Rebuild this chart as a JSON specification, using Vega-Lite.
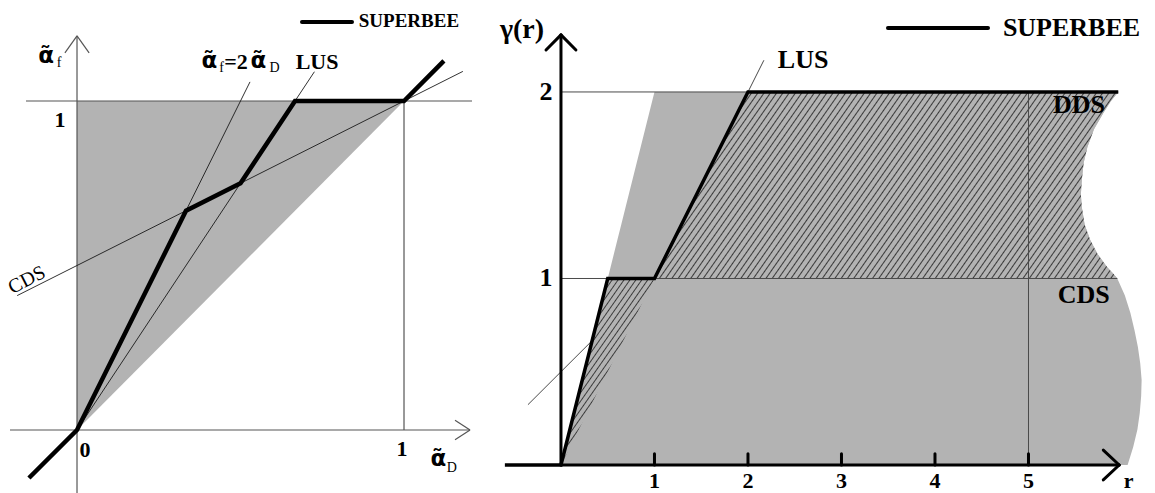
{
  "$schema": "https://vega.github.io/schema/vega-lite/v6.json",
  "padding": 0,
  "spacing": 0,
  "bounds": "flush",
  "background": "white",
  "config": {"view": {"stroke": null}},
  "hconcat": [
    {
      "width": 480,
      "height": 493,
      "encoding": {
        "x": {"field": "x", "type": "quantitative", "scale": {"domain": [-0.2355, 1.2324], "nice": false, "zero": false}, "axis": null},
        "y": {"field": "y", "type": "quantitative", "scale": {"domain": [-0.1915, 1.307], "nice": false, "zero": false}, "axis": null}
      },
      "layer": [
        {
          "data": {"values": [{"x": 0, "y": 0, "y2": 1}, {"x": 1, "y": 1, "y2": 1}]},
          "mark": {"type": "area", "color": "#b3b3b3", "orient": "vertical"},
          "encoding": {"y2": {"field": "y2"}}
        },
        {
          "data": {"values": [
            {"x": -0.205, "y": 0, "x2": 1.202, "y2": 0},
            {"x": 0, "y": -0.1915, "x2": 0, "y2": 1.198},
            {"x": 1.202, "y": 0, "x2": 1.156, "y2": 0.03},
            {"x": 1.202, "y": 0, "x2": 1.156, "y2": -0.03},
            {"x": 0, "y": 1.198, "x2": -0.037, "y2": 1.146},
            {"x": 0, "y": 1.198, "x2": 0.037, "y2": 1.146},
            {"x": -0.156, "y": 1, "x2": 1.208, "y2": 1},
            {"x": 1, "y": 0, "x2": 1, "y2": 1}
          ]},
          "mark": {"type": "rule", "color": "#555555", "strokeWidth": 1.2},
          "encoding": {"x2": {"field": "x2"}, "y2": {"field": "y2"}}
        },
        {
          "data": {"values": [
            {"x": 0, "y": 0, "x2": 0.529, "y2": 1.058},
            {"x": 0, "y": 0, "x2": 0.726, "y2": 1.089},
            {"x": -0.183, "y": 0.4085, "x2": 1.18, "y2": 1.09}
          ]},
          "mark": {"type": "rule", "color": "#1a1a1a", "strokeWidth": 0.9},
          "encoding": {"x2": {"field": "x2"}, "y2": {"field": "y2"}}
        },
        {
          "data": {"values": [
            {"x": -0.147, "y": -0.146},
            {"x": 0, "y": 0},
            {"x": 0.3333, "y": 0.6667},
            {"x": 0.5, "y": 0.75},
            {"x": 0.6667, "y": 1},
            {"x": 1, "y": 1},
            {"x": 1.122, "y": 1.122}
          ]},
          "mark": {"type": "line", "color": "#000000", "strokeWidth": 4.5, "strokeJoin": "miter"},
          "encoding": {}
        },
        {
          "data": {"values": [{"x": 0.688, "y": 1.240, "x2": 0.841, "y2": 1.240}]},
          "mark": {"type": "rule", "color": "#000000", "strokeWidth": 4, "strokeCap": "round"},
          "encoding": {"x2": {"field": "x2"}, "y2": {"field": "y2"}}
        },
        {
          "data": {"values": [
            {"x": -0.052, "y": 0.942, "t": "1"},
            {"x": 0.0245, "y": -0.061, "t": "0"},
            {"x": 0.994, "y": -0.058, "t": "1"},
            {"x": 0.734, "y": 1.119, "t": "LUS"},
            {"x": 0.486, "y": 1.119, "t": "=2"}
          ]},
          "mark": {"type": "text", "font": "Liberation Serif", "fontWeight": "bold", "fontSize": 22, "align": "center", "baseline": "middle", "color": "#000000"},
          "encoding": {"text": {"field": "t"}}
        },
        {
          "data": {"values": [{"x": 1.015, "y": 1.243, "t": "SUPERBEE"}]},
          "mark": {"type": "text", "font": "Liberation Serif", "fontWeight": "bold", "fontSize": 19, "align": "center", "baseline": "middle", "color": "#000000"},
          "encoding": {"text": {"field": "t"}}
        },
        {
          "data": {"values": [
            {"x": -0.094, "y": 1.137, "t": "α̃"},
            {"x": 1.105, "y": -0.088, "t": "α̃"},
            {"x": 0.405, "y": 1.122, "t": "α̃"},
            {"x": 0.555, "y": 1.122, "t": "α̃"}
          ]},
          "mark": {"type": "text", "font": "DejaVu Sans", "fontWeight": "bold", "fontSize": 23, "align": "center", "baseline": "middle", "color": "#000000"},
          "encoding": {"text": {"field": "t"}}
        },
        {
          "data": {"values": [
            {"x": -0.055, "y": 1.117, "t": "f"},
            {"x": 1.146, "y": -0.1155, "t": "D"},
            {"x": 0.442, "y": 1.100, "t": "f"},
            {"x": 0.604, "y": 1.100, "t": "D"}
          ]},
          "mark": {"type": "text", "font": "Liberation Serif", "fontSize": 14, "align": "center", "baseline": "middle", "color": "#000000"},
          "encoding": {"text": {"field": "t"}}
        },
        {
          "data": {"values": [{"x": -0.153, "y": 0.456, "t": "CDS"}]},
          "mark": {"type": "text", "font": "Liberation Serif", "fontSize": 20, "angle": 333, "align": "center", "baseline": "middle", "color": "#000000"},
          "encoding": {"text": {"field": "t"}}
        }
      ]
    },
    {
      "width": 675,
      "height": 493,
      "encoding": {
        "x": {"field": "x", "type": "quantitative", "scale": {"domain": [-0.866, 6.353], "nice": false, "zero": false}, "axis": null},
        "y": {"field": "y", "type": "quantitative", "scale": {"domain": [-0.150, 2.493], "nice": false, "zero": false}, "axis": null}
      },
      "layer": [
        {
          "data": {"values": [
            {"y": 0, "x": 0, "x2": 6.06},
            {"y": 0.097, "x": 0.0485, "x2": 6.12},
            {"y": 0.19, "x": 0.095, "x2": 6.165},
            {"y": 0.279, "x": 0.1395, "x2": 6.19},
            {"y": 0.37, "x": 0.185, "x2": 6.205},
            {"y": 0.456, "x": 0.228, "x2": 6.21},
            {"y": 0.545, "x": 0.2725, "x2": 6.195},
            {"y": 0.633, "x": 0.3165, "x2": 6.17},
            {"y": 0.72, "x": 0.36, "x2": 6.135},
            {"y": 0.815, "x": 0.4075, "x2": 6.09},
            {"y": 0.91, "x": 0.455, "x2": 6.03},
            {"y": 1.0, "x": 0.5, "x2": 5.95},
            {"y": 1.03, "x": 0.515, "x2": 5.9},
            {"y": 1.062, "x": 0.531, "x2": 5.84},
            {"y": 1.13, "x": 0.565, "x2": 5.74},
            {"y": 1.206, "x": 0.603, "x2": 5.66},
            {"y": 1.29, "x": 0.645, "x2": 5.6},
            {"y": 1.383, "x": 0.6915, "x2": 5.57},
            {"y": 1.45, "x": 0.725, "x2": 5.56},
            {"y": 1.528, "x": 0.764, "x2": 5.57},
            {"y": 1.62, "x": 0.81, "x2": 5.59},
            {"y": 1.705, "x": 0.8525, "x2": 5.63},
            {"y": 1.8, "x": 0.9, "x2": 5.7},
            {"y": 1.887, "x": 0.9435, "x2": 5.8},
            {"y": 1.95, "x": 0.975, "x2": 5.88},
            {"y": 2.0, "x": 1.0, "x2": 5.96}
          ]},
          "mark": {"type": "area", "color": "#b3b3b3", "orient": "horizontal"},
          "encoding": {"x2": {"field": "x2"}}
        },
        {
          "data": {"values": [
            {"y": 1.0, "x": 1.0, "x2": 5.95},
            {"y": 1.03, "x": 1.03, "x2": 5.9},
            {"y": 1.062, "x": 1.062, "x2": 5.84},
            {"y": 1.13, "x": 1.13, "x2": 5.74},
            {"y": 1.206, "x": 1.206, "x2": 5.66},
            {"y": 1.29, "x": 1.29, "x2": 5.6},
            {"y": 1.383, "x": 1.383, "x2": 5.57},
            {"y": 1.45, "x": 1.45, "x2": 5.56},
            {"y": 1.528, "x": 1.528, "x2": 5.57},
            {"y": 1.62, "x": 1.62, "x2": 5.59},
            {"y": 1.705, "x": 1.705, "x2": 5.63},
            {"y": 1.8, "x": 1.8, "x2": 5.7},
            {"y": 1.887, "x": 1.887, "x2": 5.8},
            {"y": 1.95, "x": 1.95, "x2": 5.88},
            {"y": 2.0, "x": 2.0, "x2": 5.96}
          ]},
          "mark": {"type": "area", "orient": "horizontal", "color": {"gradient": "linear", "x1": 0.2, "y1": 0, "x2": 1.2021, "y2": 0.2821, "stops": [
            {"offset": 0, "color": "#b3b3b3"},
            {"offset": 0.0075, "color": "#b3b3b3"}, {"offset": 0.01, "color": "#3a3a3a"}, {"offset": 0.0125, "color": "#b3b3b3"},
            {"offset": 0.02, "color": "#b3b3b3"}, {"offset": 0.0225, "color": "#3a3a3a"}, {"offset": 0.025, "color": "#b3b3b3"},
            {"offset": 0.0325, "color": "#b3b3b3"}, {"offset": 0.035, "color": "#3a3a3a"}, {"offset": 0.0375, "color": "#b3b3b3"},
            {"offset": 0.045, "color": "#b3b3b3"}, {"offset": 0.0475, "color": "#3a3a3a"}, {"offset": 0.05, "color": "#b3b3b3"},
            {"offset": 0.0575, "color": "#b3b3b3"}, {"offset": 0.06, "color": "#3a3a3a"}, {"offset": 0.0625, "color": "#b3b3b3"},
            {"offset": 0.07, "color": "#b3b3b3"}, {"offset": 0.0725, "color": "#3a3a3a"}, {"offset": 0.075, "color": "#b3b3b3"},
            {"offset": 0.0825, "color": "#b3b3b3"}, {"offset": 0.085, "color": "#3a3a3a"}, {"offset": 0.0875, "color": "#b3b3b3"},
            {"offset": 0.095, "color": "#b3b3b3"}, {"offset": 0.0975, "color": "#3a3a3a"}, {"offset": 0.1, "color": "#b3b3b3"},
            {"offset": 0.1075, "color": "#b3b3b3"}, {"offset": 0.11, "color": "#3a3a3a"}, {"offset": 0.1125, "color": "#b3b3b3"},
            {"offset": 0.12, "color": "#b3b3b3"}, {"offset": 0.1225, "color": "#3a3a3a"}, {"offset": 0.125, "color": "#b3b3b3"},
            {"offset": 0.1325, "color": "#b3b3b3"}, {"offset": 0.135, "color": "#3a3a3a"}, {"offset": 0.1375, "color": "#b3b3b3"},
            {"offset": 0.145, "color": "#b3b3b3"}, {"offset": 0.1475, "color": "#3a3a3a"}, {"offset": 0.15, "color": "#b3b3b3"},
            {"offset": 0.1575, "color": "#b3b3b3"}, {"offset": 0.16, "color": "#3a3a3a"}, {"offset": 0.1625, "color": "#b3b3b3"},
            {"offset": 0.17, "color": "#b3b3b3"}, {"offset": 0.1725, "color": "#3a3a3a"}, {"offset": 0.175, "color": "#b3b3b3"},
            {"offset": 0.1825, "color": "#b3b3b3"}, {"offset": 0.185, "color": "#3a3a3a"}, {"offset": 0.1875, "color": "#b3b3b3"},
            {"offset": 0.195, "color": "#b3b3b3"}, {"offset": 0.1975, "color": "#3a3a3a"}, {"offset": 0.2, "color": "#b3b3b3"},
            {"offset": 0.2075, "color": "#b3b3b3"}, {"offset": 0.21, "color": "#3a3a3a"}, {"offset": 0.2125, "color": "#b3b3b3"},
            {"offset": 0.22, "color": "#b3b3b3"}, {"offset": 0.2225, "color": "#3a3a3a"}, {"offset": 0.225, "color": "#b3b3b3"},
            {"offset": 0.2325, "color": "#b3b3b3"}, {"offset": 0.235, "color": "#3a3a3a"}, {"offset": 0.2375, "color": "#b3b3b3"},
            {"offset": 0.245, "color": "#b3b3b3"}, {"offset": 0.2475, "color": "#3a3a3a"}, {"offset": 0.25, "color": "#b3b3b3"},
            {"offset": 0.2575, "color": "#b3b3b3"}, {"offset": 0.26, "color": "#3a3a3a"}, {"offset": 0.2625, "color": "#b3b3b3"},
            {"offset": 0.27, "color": "#b3b3b3"}, {"offset": 0.2725, "color": "#3a3a3a"}, {"offset": 0.275, "color": "#b3b3b3"},
            {"offset": 0.2825, "color": "#b3b3b3"}, {"offset": 0.285, "color": "#3a3a3a"}, {"offset": 0.2875, "color": "#b3b3b3"},
            {"offset": 0.295, "color": "#b3b3b3"}, {"offset": 0.2975, "color": "#3a3a3a"}, {"offset": 0.3, "color": "#b3b3b3"},
            {"offset": 0.3075, "color": "#b3b3b3"}, {"offset": 0.31, "color": "#3a3a3a"}, {"offset": 0.3125, "color": "#b3b3b3"},
            {"offset": 0.32, "color": "#b3b3b3"}, {"offset": 0.3225, "color": "#3a3a3a"}, {"offset": 0.325, "color": "#b3b3b3"},
            {"offset": 0.3325, "color": "#b3b3b3"}, {"offset": 0.335, "color": "#3a3a3a"}, {"offset": 0.3375, "color": "#b3b3b3"},
            {"offset": 0.345, "color": "#b3b3b3"}, {"offset": 0.3475, "color": "#3a3a3a"}, {"offset": 0.35, "color": "#b3b3b3"},
            {"offset": 0.3575, "color": "#b3b3b3"}, {"offset": 0.36, "color": "#3a3a3a"}, {"offset": 0.3625, "color": "#b3b3b3"},
            {"offset": 0.37, "color": "#b3b3b3"}, {"offset": 0.3725, "color": "#3a3a3a"}, {"offset": 0.375, "color": "#b3b3b3"},
            {"offset": 0.3825, "color": "#b3b3b3"}, {"offset": 0.385, "color": "#3a3a3a"}, {"offset": 0.3875, "color": "#b3b3b3"},
            {"offset": 0.395, "color": "#b3b3b3"}, {"offset": 0.3975, "color": "#3a3a3a"}, {"offset": 0.4, "color": "#b3b3b3"},
            {"offset": 0.4075, "color": "#b3b3b3"}, {"offset": 0.41, "color": "#3a3a3a"}, {"offset": 0.4125, "color": "#b3b3b3"},
            {"offset": 0.42, "color": "#b3b3b3"}, {"offset": 0.4225, "color": "#3a3a3a"}, {"offset": 0.425, "color": "#b3b3b3"},
            {"offset": 0.4325, "color": "#b3b3b3"}, {"offset": 0.435, "color": "#3a3a3a"}, {"offset": 0.4375, "color": "#b3b3b3"},
            {"offset": 0.445, "color": "#b3b3b3"}, {"offset": 0.4475, "color": "#3a3a3a"}, {"offset": 0.45, "color": "#b3b3b3"},
            {"offset": 0.4575, "color": "#b3b3b3"}, {"offset": 0.46, "color": "#3a3a3a"}, {"offset": 0.4625, "color": "#b3b3b3"},
            {"offset": 0.47, "color": "#b3b3b3"}, {"offset": 0.4725, "color": "#3a3a3a"}, {"offset": 0.475, "color": "#b3b3b3"},
            {"offset": 0.4825, "color": "#b3b3b3"}, {"offset": 0.485, "color": "#3a3a3a"}, {"offset": 0.4875, "color": "#b3b3b3"},
            {"offset": 0.495, "color": "#b3b3b3"}, {"offset": 0.4975, "color": "#3a3a3a"}, {"offset": 0.5, "color": "#b3b3b3"},
            {"offset": 0.5075, "color": "#b3b3b3"}, {"offset": 0.51, "color": "#3a3a3a"}, {"offset": 0.5125, "color": "#b3b3b3"},
            {"offset": 0.52, "color": "#b3b3b3"}, {"offset": 0.5225, "color": "#3a3a3a"}, {"offset": 0.525, "color": "#b3b3b3"},
            {"offset": 0.5325, "color": "#b3b3b3"}, {"offset": 0.535, "color": "#3a3a3a"}, {"offset": 0.5375, "color": "#b3b3b3"},
            {"offset": 0.545, "color": "#b3b3b3"}, {"offset": 0.5475, "color": "#3a3a3a"}, {"offset": 0.55, "color": "#b3b3b3"},
            {"offset": 0.5575, "color": "#b3b3b3"}, {"offset": 0.56, "color": "#3a3a3a"}, {"offset": 0.5625, "color": "#b3b3b3"},
            {"offset": 0.57, "color": "#b3b3b3"}, {"offset": 0.5725, "color": "#3a3a3a"}, {"offset": 0.575, "color": "#b3b3b3"},
            {"offset": 0.5825, "color": "#b3b3b3"}, {"offset": 0.585, "color": "#3a3a3a"}, {"offset": 0.5875, "color": "#b3b3b3"},
            {"offset": 0.595, "color": "#b3b3b3"}, {"offset": 0.5975, "color": "#3a3a3a"}, {"offset": 0.6, "color": "#b3b3b3"},
            {"offset": 0.6075, "color": "#b3b3b3"}, {"offset": 0.61, "color": "#3a3a3a"}, {"offset": 0.6125, "color": "#b3b3b3"},
            {"offset": 0.62, "color": "#b3b3b3"}, {"offset": 0.6225, "color": "#3a3a3a"}, {"offset": 0.625, "color": "#b3b3b3"},
            {"offset": 0.6325, "color": "#b3b3b3"}, {"offset": 0.635, "color": "#3a3a3a"}, {"offset": 0.6375, "color": "#b3b3b3"},
            {"offset": 0.645, "color": "#b3b3b3"}, {"offset": 0.6475, "color": "#3a3a3a"}, {"offset": 0.65, "color": "#b3b3b3"},
            {"offset": 0.6575, "color": "#b3b3b3"}, {"offset": 0.66, "color": "#3a3a3a"}, {"offset": 0.6625, "color": "#b3b3b3"},
            {"offset": 0.67, "color": "#b3b3b3"}, {"offset": 0.6725, "color": "#3a3a3a"}, {"offset": 0.675, "color": "#b3b3b3"},
            {"offset": 0.6825, "color": "#b3b3b3"}, {"offset": 0.685, "color": "#3a3a3a"}, {"offset": 0.6875, "color": "#b3b3b3"},
            {"offset": 0.695, "color": "#b3b3b3"}, {"offset": 0.6975, "color": "#3a3a3a"}, {"offset": 0.7, "color": "#b3b3b3"},
            {"offset": 0.7075, "color": "#b3b3b3"}, {"offset": 0.71, "color": "#3a3a3a"}, {"offset": 0.7125, "color": "#b3b3b3"},
            {"offset": 0.72, "color": "#b3b3b3"}, {"offset": 0.7225, "color": "#3a3a3a"}, {"offset": 0.725, "color": "#b3b3b3"},
            {"offset": 0.7325, "color": "#b3b3b3"}, {"offset": 0.735, "color": "#3a3a3a"}, {"offset": 0.7375, "color": "#b3b3b3"},
            {"offset": 0.745, "color": "#b3b3b3"}, {"offset": 0.7475, "color": "#3a3a3a"}, {"offset": 0.75, "color": "#b3b3b3"},
            {"offset": 0.7575, "color": "#b3b3b3"}, {"offset": 0.76, "color": "#3a3a3a"}, {"offset": 0.7625, "color": "#b3b3b3"},
            {"offset": 0.77, "color": "#b3b3b3"}, {"offset": 0.7725, "color": "#3a3a3a"}, {"offset": 0.775, "color": "#b3b3b3"},
            {"offset": 0.7825, "color": "#b3b3b3"}, {"offset": 0.785, "color": "#3a3a3a"}, {"offset": 0.7875, "color": "#b3b3b3"},
            {"offset": 0.795, "color": "#b3b3b3"}, {"offset": 0.7975, "color": "#3a3a3a"}, {"offset": 0.8, "color": "#b3b3b3"},
            {"offset": 0.8075, "color": "#b3b3b3"}, {"offset": 0.81, "color": "#3a3a3a"}, {"offset": 0.8125, "color": "#b3b3b3"},
            {"offset": 0.82, "color": "#b3b3b3"}, {"offset": 0.8225, "color": "#3a3a3a"}, {"offset": 0.825, "color": "#b3b3b3"},
            {"offset": 0.8325, "color": "#b3b3b3"}, {"offset": 0.835, "color": "#3a3a3a"}, {"offset": 0.8375, "color": "#b3b3b3"},
            {"offset": 0.845, "color": "#b3b3b3"}, {"offset": 0.8475, "color": "#3a3a3a"}, {"offset": 0.85, "color": "#b3b3b3"},
            {"offset": 0.8575, "color": "#b3b3b3"}, {"offset": 0.86, "color": "#3a3a3a"}, {"offset": 0.8625, "color": "#b3b3b3"},
            {"offset": 0.87, "color": "#b3b3b3"}, {"offset": 0.8725, "color": "#3a3a3a"}, {"offset": 0.875, "color": "#b3b3b3"},
            {"offset": 0.8825, "color": "#b3b3b3"}, {"offset": 0.885, "color": "#3a3a3a"}, {"offset": 0.8875, "color": "#b3b3b3"},
            {"offset": 0.895, "color": "#b3b3b3"}, {"offset": 0.8975, "color": "#3a3a3a"}, {"offset": 0.9, "color": "#b3b3b3"},
            {"offset": 0.9075, "color": "#b3b3b3"}, {"offset": 0.91, "color": "#3a3a3a"}, {"offset": 0.9125, "color": "#b3b3b3"},
            {"offset": 0.92, "color": "#b3b3b3"}, {"offset": 0.9225, "color": "#3a3a3a"}, {"offset": 0.925, "color": "#b3b3b3"},
            {"offset": 0.9325, "color": "#b3b3b3"}, {"offset": 0.935, "color": "#3a3a3a"}, {"offset": 0.9375, "color": "#b3b3b3"},
            {"offset": 0.945, "color": "#b3b3b3"}, {"offset": 0.9475, "color": "#3a3a3a"}, {"offset": 0.95, "color": "#b3b3b3"},
            {"offset": 0.9575, "color": "#b3b3b3"}, {"offset": 0.96, "color": "#3a3a3a"}, {"offset": 0.9625, "color": "#b3b3b3"},
            {"offset": 0.97, "color": "#b3b3b3"}, {"offset": 0.9725, "color": "#3a3a3a"}, {"offset": 0.975, "color": "#b3b3b3"},
            {"offset": 0.9825, "color": "#b3b3b3"}, {"offset": 0.985, "color": "#3a3a3a"}, {"offset": 0.9875, "color": "#b3b3b3"},
            {"offset": 0.995, "color": "#b3b3b3"}, {"offset": 0.9975, "color": "#3a3a3a"}, {"offset": 1, "color": "#b3b3b3"}
          ]}},
          "encoding": {"x2": {"field": "x2"}}
        },
        {
          "data": {"values": [
            {"y": 0, "x": 0, "x2": 0},
            {"y": 1, "x": 0.5, "x2": 1}
          ]},
          "mark": {"type": "area", "orient": "horizontal", "color": {"gradient": "linear", "x1": 0, "y1": 0, "x2": 0.716, "y2": 1, "stops": [
            {"offset": 0, "color": "#b3b3b3"},
            {"offset": 0.018, "color": "#b3b3b3"}, {"offset": 0.024, "color": "#3a3a3a"}, {"offset": 0.03, "color": "#b3b3b3"},
            {"offset": 0.048, "color": "#b3b3b3"}, {"offset": 0.054, "color": "#3a3a3a"}, {"offset": 0.06, "color": "#b3b3b3"},
            {"offset": 0.078, "color": "#b3b3b3"}, {"offset": 0.084, "color": "#3a3a3a"}, {"offset": 0.09, "color": "#b3b3b3"},
            {"offset": 0.108, "color": "#b3b3b3"}, {"offset": 0.114, "color": "#3a3a3a"}, {"offset": 0.12, "color": "#b3b3b3"},
            {"offset": 0.138, "color": "#b3b3b3"}, {"offset": 0.144, "color": "#3a3a3a"}, {"offset": 0.15, "color": "#b3b3b3"},
            {"offset": 0.168, "color": "#b3b3b3"}, {"offset": 0.174, "color": "#3a3a3a"}, {"offset": 0.18, "color": "#b3b3b3"},
            {"offset": 0.198, "color": "#b3b3b3"}, {"offset": 0.204, "color": "#3a3a3a"}, {"offset": 0.21, "color": "#b3b3b3"},
            {"offset": 0.228, "color": "#b3b3b3"}, {"offset": 0.234, "color": "#3a3a3a"}, {"offset": 0.24, "color": "#b3b3b3"},
            {"offset": 0.258, "color": "#b3b3b3"}, {"offset": 0.264, "color": "#3a3a3a"}, {"offset": 0.27, "color": "#b3b3b3"},
            {"offset": 0.288, "color": "#b3b3b3"}, {"offset": 0.294, "color": "#3a3a3a"}, {"offset": 0.3, "color": "#b3b3b3"},
            {"offset": 0.318, "color": "#b3b3b3"}, {"offset": 0.324, "color": "#3a3a3a"}, {"offset": 0.33, "color": "#b3b3b3"},
            {"offset": 0.348, "color": "#b3b3b3"}, {"offset": 0.354, "color": "#3a3a3a"}, {"offset": 0.36, "color": "#b3b3b3"},
            {"offset": 0.378, "color": "#b3b3b3"}, {"offset": 0.384, "color": "#3a3a3a"}, {"offset": 0.39, "color": "#b3b3b3"},
            {"offset": 0.408, "color": "#b3b3b3"}, {"offset": 0.414, "color": "#3a3a3a"}, {"offset": 0.42, "color": "#b3b3b3"},
            {"offset": 0.438, "color": "#b3b3b3"}, {"offset": 0.444, "color": "#3a3a3a"}, {"offset": 0.45, "color": "#b3b3b3"},
            {"offset": 0.468, "color": "#b3b3b3"}, {"offset": 0.474, "color": "#3a3a3a"}, {"offset": 0.48, "color": "#b3b3b3"},
            {"offset": 0.498, "color": "#b3b3b3"}, {"offset": 0.504, "color": "#3a3a3a"}, {"offset": 0.51, "color": "#b3b3b3"},
            {"offset": 0.528, "color": "#b3b3b3"}, {"offset": 0.534, "color": "#3a3a3a"}, {"offset": 0.54, "color": "#b3b3b3"},
            {"offset": 0.558, "color": "#b3b3b3"}, {"offset": 0.564, "color": "#3a3a3a"}, {"offset": 0.57, "color": "#b3b3b3"},
            {"offset": 0.588, "color": "#b3b3b3"}, {"offset": 0.594, "color": "#3a3a3a"}, {"offset": 0.6, "color": "#b3b3b3"},
            {"offset": 0.618, "color": "#b3b3b3"}, {"offset": 0.624, "color": "#3a3a3a"}, {"offset": 0.63, "color": "#b3b3b3"},
            {"offset": 0.648, "color": "#b3b3b3"}, {"offset": 0.654, "color": "#3a3a3a"}, {"offset": 0.66, "color": "#b3b3b3"},
            {"offset": 0.678, "color": "#b3b3b3"}, {"offset": 0.684, "color": "#3a3a3a"}, {"offset": 0.69, "color": "#b3b3b3"},
            {"offset": 0.708, "color": "#b3b3b3"}, {"offset": 0.714, "color": "#3a3a3a"}, {"offset": 0.72, "color": "#b3b3b3"},
            {"offset": 0.738, "color": "#b3b3b3"}, {"offset": 0.744, "color": "#3a3a3a"}, {"offset": 0.75, "color": "#b3b3b3"},
            {"offset": 0.768, "color": "#b3b3b3"}, {"offset": 0.774, "color": "#3a3a3a"}, {"offset": 0.78, "color": "#b3b3b3"},
            {"offset": 0.798, "color": "#b3b3b3"}, {"offset": 0.804, "color": "#3a3a3a"}, {"offset": 0.81, "color": "#b3b3b3"},
            {"offset": 0.828, "color": "#b3b3b3"}, {"offset": 0.834, "color": "#3a3a3a"}, {"offset": 0.84, "color": "#b3b3b3"},
            {"offset": 0.858, "color": "#b3b3b3"}, {"offset": 0.864, "color": "#3a3a3a"}, {"offset": 0.87, "color": "#b3b3b3"},
            {"offset": 0.888, "color": "#b3b3b3"}, {"offset": 0.894, "color": "#3a3a3a"}, {"offset": 0.9, "color": "#b3b3b3"},
            {"offset": 0.918, "color": "#b3b3b3"}, {"offset": 0.924, "color": "#3a3a3a"}, {"offset": 0.93, "color": "#b3b3b3"},
            {"offset": 0.948, "color": "#b3b3b3"}, {"offset": 0.954, "color": "#3a3a3a"}, {"offset": 0.96, "color": "#b3b3b3"},
            {"offset": 0.978, "color": "#b3b3b3"}, {"offset": 0.984, "color": "#3a3a3a"}, {"offset": 0.99, "color": "#b3b3b3"},
            {"offset": 1, "color": "#b3b3b3"}
          ]}},
          "encoding": {"x2": {"field": "x2"}}
        },
        {
          "data": {"values": [
            {"x": 0, "y": 2, "x2": 5.96, "y2": 2},
            {"x": 0, "y": 1, "x2": 5.95, "y2": 1},
            {"x": 5, "y": 0, "x2": 5, "y2": 2},
            {"x": 1, "y": 1, "x2": 2.17, "y2": 2.17},
            {"x": -0.353, "y": 0.3235, "x2": 0.3333, "y2": 0.6667}
          ]},
          "mark": {"type": "rule", "color": "#4a4a4a", "strokeWidth": 1},
          "encoding": {"x2": {"field": "x2"}, "y2": {"field": "y2"}}
        },
        {
          "data": {"values": [
            {"x": -0.6, "y": 0},
            {"x": 0, "y": 0},
            {"x": 0.5, "y": 1},
            {"x": 1, "y": 1},
            {"x": 2, "y": 2},
            {"x": 5.96, "y": 2}
          ]},
          "mark": {"type": "line", "color": "#000000", "strokeWidth": 3.5, "strokeJoin": "miter"},
          "encoding": {}
        },
        {
          "data": {"values": [
            {"x": 0, "y": 0, "x2": 5.97, "y2": 0},
            {"x": 0, "y": 0, "x2": 0, "y2": 2.306},
            {"x": 0, "y": 2.306, "x2": -0.16, "y2": 2.225},
            {"x": 0, "y": 2.306, "x2": 0.16, "y2": 2.225},
            {"x": 5.97, "y": 0, "x2": 5.8, "y2": 0.08},
            {"x": 5.97, "y": 0, "x2": 5.8, "y2": -0.08},
            {"x": 1, "y": 0, "x2": 1, "y2": 0.06},
            {"x": 2, "y": 0, "x2": 2, "y2": 0.06},
            {"x": 3, "y": 0, "x2": 3, "y2": 0.06},
            {"x": 4, "y": 0, "x2": 4, "y2": 0.06},
            {"x": 5, "y": 0, "x2": 5, "y2": 0.06}
          ]},
          "mark": {"type": "rule", "color": "#000000", "strokeWidth": 3, "strokeCap": "round"},
          "encoding": {"x2": {"field": "x2"}, "y2": {"field": "y2"}}
        },
        {
          "data": {"values": [{"x": 3.497, "y": 2.343, "x2": 4.567, "y2": 2.343}]},
          "mark": {"type": "rule", "color": "#000000", "strokeWidth": 4, "strokeCap": "round"},
          "encoding": {"x2": {"field": "x2"}, "y2": {"field": "y2"}}
        },
        {
          "data": {"values": [
            {"x": 2.59, "y": 2.17, "t": "LUS"},
            {"x": 5.54, "y": 1.93, "t": "DDS"},
            {"x": 5.59, "y": 0.91, "t": "CDS"},
            {"x": 5.46, "y": 2.343, "t": "SUPERBEE"},
            {"x": -0.16, "y": 1, "t": "1"},
            {"x": -0.16, "y": 2, "t": "2"}
          ]},
          "mark": {"type": "text", "font": "Liberation Serif", "fontWeight": "bold", "fontSize": 26, "align": "center", "baseline": "middle", "color": "#000000"},
          "encoding": {"text": {"field": "t"}}
        },
        {
          "data": {"values": [
            {"x": 1, "y": -0.124, "t": "1"},
            {"x": 2, "y": -0.124, "t": "2"},
            {"x": 3, "y": -0.124, "t": "3"},
            {"x": 4, "y": -0.124, "t": "4"},
            {"x": 5, "y": -0.124, "t": "5"},
            {"x": 6.07, "y": -0.124, "t": "r"}
          ]},
          "mark": {"type": "text", "font": "Liberation Serif", "fontWeight": "bold", "fontSize": 22, "align": "center", "baseline": "alphabetic", "color": "#000000"},
          "encoding": {"text": {"field": "t"}}
        },
        {
          "data": {"values": [{"x": -0.417, "y": 2.332, "t": "γ(r)"}]},
          "mark": {"type": "text", "font": "Liberation Serif", "fontWeight": "bold", "fontSize": 28, "align": "center", "baseline": "middle", "color": "#000000"},
          "encoding": {"text": {"field": "t"}}
        }
      ]
    }
  ]
}
